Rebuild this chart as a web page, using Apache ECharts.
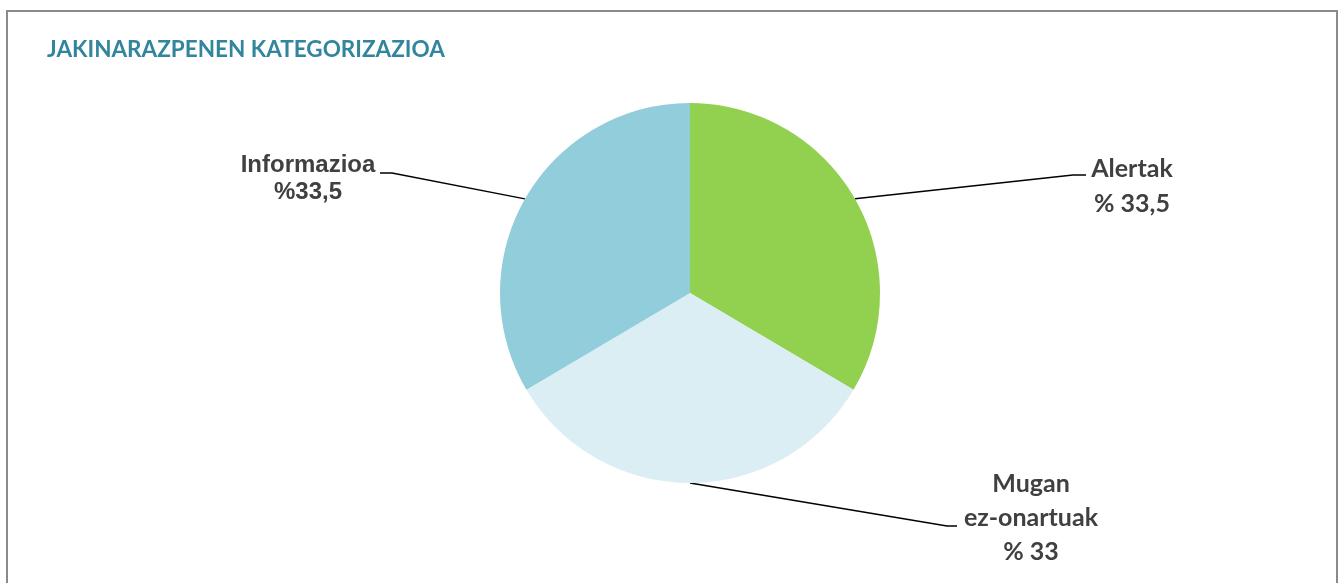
<!DOCTYPE html>
<html>
<head>
<meta charset="utf-8">
<script src="https://cdn.jsdelivr.net/npm/echarts@6/dist/echarts.min.js"></script>
<style>
  html, body { margin: 0; padding: 0; background: #fff; }
  #chart { width: 1341px; height: 583px; }
</style>
</head>
<body>
<div id="chart"></div>
<script>
// datuak
var categories = ['Alertak', 'Mugan\nez-onartuak', 'Informazioa'];
var values = [33.5, 33, 33.5];
var pctSep = [' ', ' ', ''];
var colors = ['#92D050', '#DAEEF3', '#92CDDC'];

// etiketen kokapena (x, y) eta lerroaren puntuak
var labelPos = [
  { x: 1132, y: 186, line: [[1073, 175], [1086, 175]] },
  { x: 1031, y: 518, line: [[947, 526], [957, 526]] },
  { x: 308, y: 179, line: [[392, 173], [380, 173]] }
];

var myChart = echarts.init(document.getElementById('chart'));

var pieData = categories.map(function (c, i) {
  var d = {
    name: c,
    value: values[i],
    itemStyle: { color: colors[i] }
  };
  if (i === 2) {
    d.label = { fontFamily: 'Liberation Sans', fontSize: 24, lineHeight: 27 };
  }
  if (i === 0) {
    d.label = { lineHeight: 35 };
  }
  return d;
});

var option = {
  animation: false,
  title: {
    text: 'JAKINARAZPENEN KATEGORIZAZIOA',
    left: 42,
    top: 33,
    textStyle: {
      color: '#31859C',
      fontFamily: 'Lato',
      fontWeight: 'bold',
      fontSize: 22.5
    }
  },
  graphic: [{
    type: 'polyline',
    shape: { points: [[7, 600], [7, 11], [1337, 11], [1337, 600]] },
    style: { stroke: '#8a8a8a', lineWidth: 2, fill: null },
    silent: true
  }],
  series: [{
    type: 'pie',
    center: [690, 293],
    radius: 190,
    startAngle: 90,
    clockwise: true,
    data: pieData,
    label: {
      show: true,
      color: '#404040',
      fontFamily: 'Lato',
      fontWeight: 'bold',
      fontSize: 25,
      lineHeight: 34,
      align: 'center',
      formatter: function (p) {
        return p.name + '\n%' + pctSep[p.dataIndex] + String(p.value).replace('.', ',');
      }
    },
    labelLine: {
      show: true,
      lineStyle: { color: '#000', width: 1.5 }
    },
    labelLayout: function (params) {
      var pos = labelPos[params.dataIndex];
      var start = params.labelLinePoints ? params.labelLinePoints[0] : null;
      var out = {
        x: pos.x,
        y: pos.y,
        align: 'center',
        verticalAlign: 'middle'
      };
      if (start) {
        out.labelLinePoints = [start, pos.line[0], pos.line[1]];
      }
      return out;
    }
  }]
};

myChart.setOption(option);
</script>
</body>
</html>
